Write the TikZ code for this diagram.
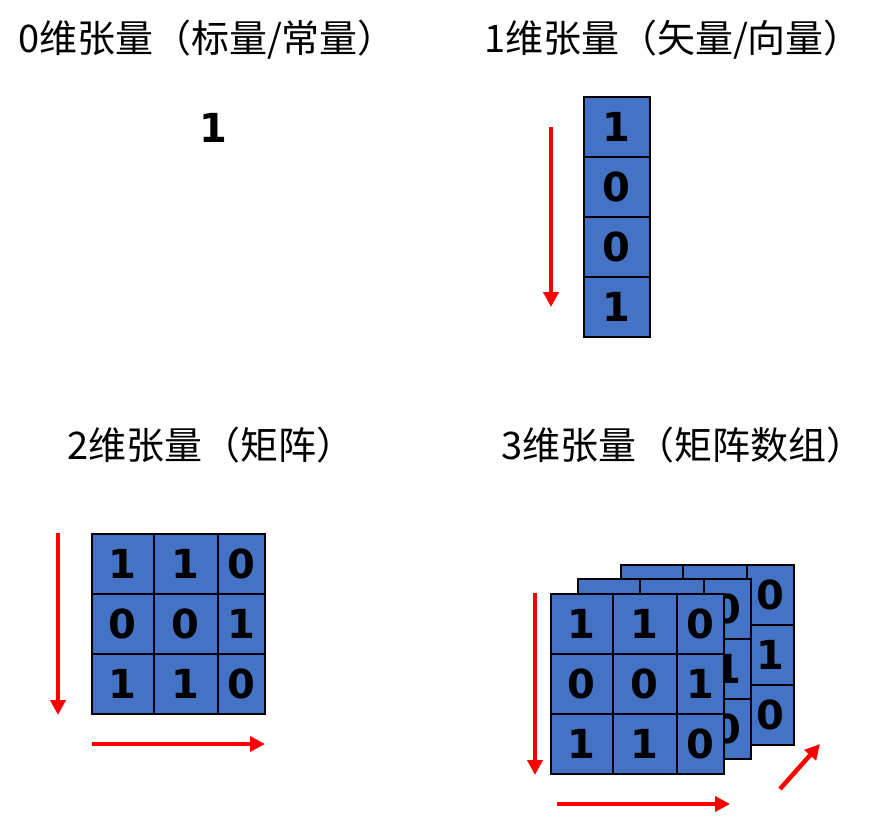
\documentclass[tikz,border=0pt]{standalone}
\usepackage{fontspec}
\newfontfamily\cjk{Noto Sans CJK SC}
\newfontfamily\digitfont{DejaVu Sans}
\usetikzlibrary{arrows.meta}
\definecolor{cellblue}{HTML}{4472C4}
\definecolor{arrred}{HTML}{FF0000}
\tikzset{
  titletext/.style={inner sep=0pt, font=\cjk\fontsize{38}{42}\selectfont},
  numtext/.style={inner sep=0pt, font=\digitfont\bfseries\fontsize{40}{44}\selectfont},
  cell/.style={draw=black, line width=1.8pt, fill=cellblue, inner sep=0pt, anchor=north west,
    font=\digitfont\bfseries\fontsize{40}{44}\selectfont},
  redarrow/.style={draw=arrred, line width=4.5pt, -{Triangle[length=15pt,width=15pt]}},
}
% \mylayer{prefix}{x0}{y0}{show digits of first two columns: 1 or 0}
\newcommand{\mylayer}[4]{%
  \foreach \r/\da/\db/\dc in {0/1/1/0, 1/0/0/1, 2/1/1/0}{%
    \ifnum#4=1
      \node[cell, minimum width=62pt, minimum height=60pt] (#1-\r-0) at (#2, #3+60*\r) {\da};
      \node[cell, minimum width=64pt, minimum height=60pt] (#1-\r-1) at (#2+62, #3+60*\r) {\db};
    \else
      \node[cell, minimum width=62pt, minimum height=60pt] (#1-\r-0) at (#2, #3+60*\r) {};
      \node[cell, minimum width=64pt, minimum height=60pt] (#1-\r-1) at (#2+62, #3+60*\r) {};
    \fi
    \node[cell, minimum width=47pt, minimum height=60pt] (#1-\r-2) at (#2+126, #3+60*\r) {\dc};
  }%
}
\begin{document}
\begin{tikzpicture}[x=1pt, y=-1pt]
\useasboundingbox (0,0) rectangle (889,820);
% titles
\node[titletext] (t0) at (207,40) {0维张量（标量/常量）};
\node[titletext] (t1) at (673,40) {1维张量（矢量/向量）};
\node[titletext] (t2) at (211,445) {2维张量（矩阵）};
\node[titletext] (t3) at (683,445) {3维张量（矩阵数组）};
% scalar
\node[numtext] (s) at (213,128) {1};
% vector
\foreach \i/\d in {0/1,1/0,2/0,3/1}{
  \node[cell, minimum width=66pt, minimum height=60pt] (v\i) at (583, 96+60*\i) {\d};
}
\coordinate (va) at (551,127);
\coordinate (vb) at (551,307);
\draw[redarrow] (va) -- (vb);
% matrix
\mylayer{m}{91}{533}{1}
\coordinate (ma) at (58,533);
\coordinate (mb) at (58,715);
\draw[redarrow] (ma) -- (mb);
\coordinate (mc) at (92,744);
\coordinate (md) at (265,744);
\draw[redarrow] (mc) -- (md);
% 3d tensor
\mylayer{c}{620}{564}{0}
\mylayer{b}{577}{578}{0}
\mylayer{a}{550}{593}{1}
\coordinate (ca) at (535,593);
\coordinate (cb) at (535,775);
\draw[redarrow] (ca) -- (cb);
\coordinate (cc) at (557,804);
\coordinate (cd) at (730,804);
\draw[redarrow] (cc) -- (cd);
\coordinate (ce) at (780,789);
\coordinate (cf) at (820,744);
\draw[redarrow] (ce) -- (cf);
\end{tikzpicture}
\end{document}
